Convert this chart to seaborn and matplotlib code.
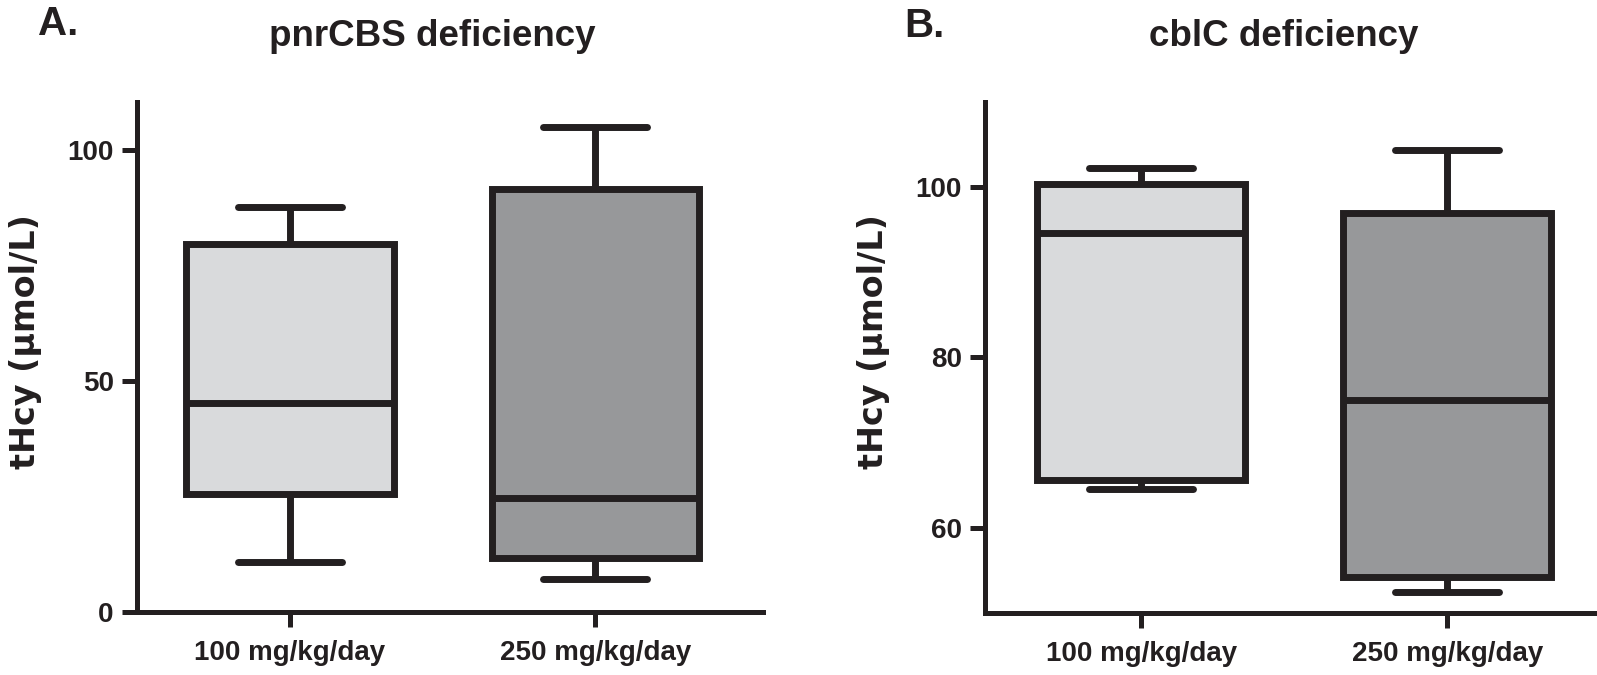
import numpy as np
import pandas as pd
import seaborn as sns
import matplotlib.pyplot as plt

# five-number summaries: [min, q1, median, q3, max]
doses = ["100 mg/kg/day", "250 mg/kg/day"]
cbs_100 = [10.9, 25.5, 45.3, 79.8, 87.8]
cbs_250 = [7.3, 11.8, 24.8, 91.6, 105.1]
cblc_100 = [64.5, 65.6, 94.6, 100.4, 102.2]
cblc_250 = [52.5, 54.2, 75.0, 97.0, 104.4]

titles = ["pnrCBS deficiency", "cblC deficiency"]
letters = ["A.", "B."]
yticks = [[0, 50, 100], [60, 80, 100]]
ylims = [(0, 110.5), (50, 110)]
box_colors = ["#d9dadc", "#97989a"]
ink = "#231f20"

sns.set_style("white")
plt.rcParams['font.family'] = ['Liberation Sans', 'DejaVu Sans']

fig = plt.figure(figsize=(15.97, 6.75), dpi=100)
ax1 = fig.add_axes([0.086, 0.093, 0.392, 0.756])
ax2 = fig.add_axes([0.617, 0.092, 0.383, 0.757])

panels = [(ax1, cbs_100, cbs_250), (ax2, cblc_100, cblc_250)]
xlims = [(-0.5, 1.55), (-0.51, 1.49)]
label_x = [-0.153, -0.156]

for i, (ax, a, b) in enumerate(panels):
    df = pd.DataFrame({"dose": [doses[0]] * len(a) + [doses[1]] * len(b),
                       "thcy": a + b})
    sns.boxplot(data=df, x="dose", y="thcy", hue="dose", order=doses,
                hue_order=doses, palette=box_colors, whis=(0, 100),
                width=0.68, linewidth=5, linecolor=ink, legend=False,
                ax=ax)
    ax.set_ylim(*ylims[i])
    ax.set_xlim(*xlims[i])
    ax.set_yticks(yticks[i])
    ax.set_xlabel("")
    ax.set_ylabel("tHcy (\u00b5mol/L)", family="DejaVu Sans", fontweight="bold",
                  fontsize=24, color=ink)
    ax.yaxis.set_label_coords(label_x[i], 0.531)
    sns.despine(ax=ax)
    for s in ["left", "bottom"]:
        ax.spines[s].set_linewidth(3.6)
        ax.spines[s].set_color(ink)
    ax.tick_params(axis="both", direction="out", length=11, width=3.6,
                   color=ink, labelsize=20, labelcolor=ink, left=True, bottom=True)
    ax.tick_params(axis="x", pad=9)
    ax.tick_params(axis="y", pad=6)
    for lab in ax.get_xticklabels() + ax.get_yticklabels():
        lab.set_fontweight("bold")

fig.text(0.271, 0.946, titles[0], ha="center", va="center", fontsize=26.5, fontweight="bold", color=ink)
fig.text(0.804, 0.946, titles[1], ha="center", va="center", fontsize=26.5, fontweight="bold", color=ink)
fig.text(0.024, 0.965, letters[0], ha="left", va="center", fontsize=29, fontweight="bold", color=ink)
fig.text(0.566, 0.962, letters[1], ha="left", va="center", fontsize=29, fontweight="bold", color=ink)

plt.savefig("out.png", dpi=100)
